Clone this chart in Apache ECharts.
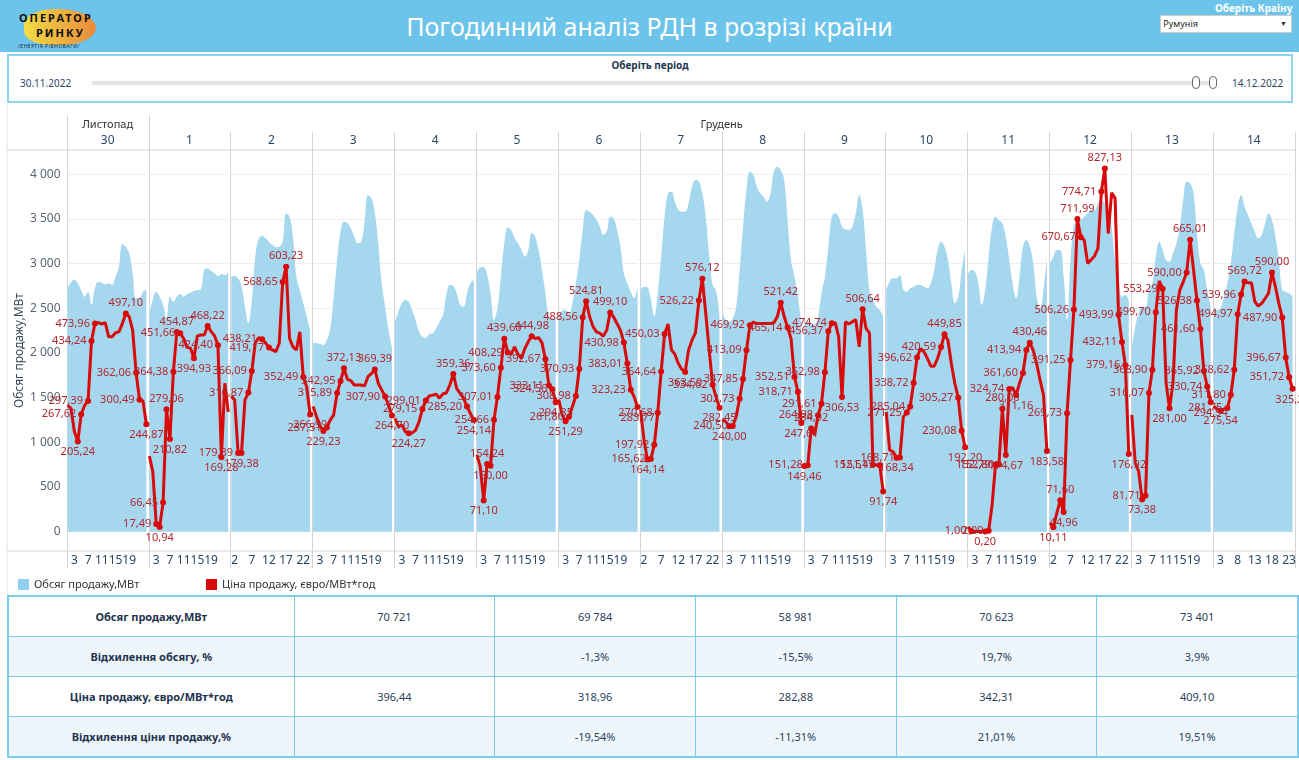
<!DOCTYPE html>
<html>
<head>
<meta charset="utf-8">
<script src="https://cdn.jsdelivr.net/npm/echarts@6/dist/echarts.min.js"></script>
<style>
body { margin: 0; width: 1299px; height: 760px; background: #fff; font-family: 'Noto Sans', sans-serif; position: relative; overflow: hidden; }
#top { position: absolute; left: 0; top: 0; width: 1299px; height: 52px; background: #6cc4ea; }
#title { position: absolute; left: 0; width: 1299px; top: 9px; text-align: center; color: #fff; font-size: 25px; }
#logo-blob { position: absolute; left: 24px; top: 9px; width: 72px; height: 36px; border-radius: 45% 55% 50% 40%; background: linear-gradient(90deg, #f3dc45, #e98a3c); }
.logo-t { position: absolute; font-weight: bold; color: #111; font-size: 11px; letter-spacing: 2px; }
#logo-s { position: absolute; left: 18px; top: 43px; font-size: 5px; color: #223; letter-spacing: 0.5px; }
#country-l { position: absolute; left: 1215px; top: 1px; color: #fff; font-size: 10px; font-weight: bold; }
#country { position: absolute; left: 1160px; top: 15px; width: 130px; height: 16px; background: #fff; border: 1px solid #ccc; font-size: 9px; line-height: 16px; color: #222; }
#country span { position: absolute; right: 4px; font-size: 7px; color: #333; }
#period { position: absolute; left: 7px; top: 54px; width: 1282px; height: 45px; border: 2px solid #8dd3ef; background: #fff; }
#period-l { position: absolute; left: 0; width: 1282px; top: 2px; text-align: center; font-size: 10px; font-weight: bold; color: #1f3550; }
.date { position: absolute; top: 20px; font-size: 10px; color: #2b4766; }
#track { position: absolute; left: 83px; top: 25px; width: 1125px; height: 4px; background: #e4e4e4; }
.knob { position: absolute; top: 20px; width: 6px; height: 11px; border: 1px solid #666; border-radius: 4px; background: #fff; }
#chart { position: absolute; left: 0; top: 105px; width: 1299px; height: 490px; }
#tbl { position: absolute; left: 7px; top: 595px; border-collapse: collapse; border: 2px solid #7ccbec; font-size: 11px; }
#tbl td { border: 1px solid #7ccbec; height: 39px; text-align: center; color: #2b3f5c; padding: 0; }
#tbl td.h { font-weight: bold; color: #1e3350; width: 285px; }
#tbl td.v { width: 200px; }
#tbl tr:nth-child(even) td { background: #eef6fb; }
</style>
</head>
<body>
<div id="top">
  <div id="logo-blob"></div>
  <div class="logo-t" style="left:19px;top:10px;">ОПЕРАТОР</div>
  <div class="logo-t" style="left:36px;top:25px;">РИНКУ</div>
  <div id="logo-s">/ЕНЕРГІЯ РІВНОВАГИ/</div>
  <div id="title">Погодинний аналіз РДН в розрізі країни</div>
  <div id="country-l">Оберіть Країну</div>
  <div id="country">&nbsp;Румунія<span>▼</span></div>
</div>
<div id="period">
  <div id="period-l">Оберіть період</div>
  <div class="date" style="left:11px;">30.11.2022</div>
  <div id="track"></div>
  <div class="knob" style="left:1183px;"></div>
  <div class="knob" style="left:1200px;"></div>
  <div class="date" style="left:1223px;">14.12.2022</div>
</div>
<div id="chart"></div>
<table id="tbl"></table>
<script>
// дні (панелі) та години
const months = ['Листопад', 'Грудень'];
const monthPanels = [1, 14];
const days = ['30', '1', '2', '3', '4', '5', '6', '7', '8', '9', '10', '11', '12', '13', '14'];
const hours = ['1','2','3','4','5','6','7','8','9','10','11','12','13','14','15','16','17','18','19','20','21','22','23','24'];
const tickHours = [
  [3,7,11,15,19], [3,7,11,15,19], [2,7,12,17,22], [3,7,11,15,19], [3,7,11,15,19],
  [3,7,11,15,19], [3,7,11,15,19], [2,7,12,17,22], [3,7,11,15,19], [3,7,11,15,19],
  [3,7,11,15,19], [3,7,11,15,19], [2,7,12,17,22], [3,7,11,15,19], [3,8,13,18,23]
];
const volTicks = [0, 500, 1000, 1500, 2000, 2500, 3000, 3500, 4000];

// обсяг продажу, МВт
const vol30 = [2724,2790,2824,2780,2700,2630,2686,2537,2724,2798,2787,2768,2780,2761,2854,2966,3220,3190,3115,2892,2612,2612,2686,2712];
const vol01 = [2444,2600,2686,2630,2537,2388,2630,2574,2630,2660,2630,2660,2675,2694,2705,2712,2929,2947,2921,2892,2862,2884,2873,2910];
const vol02 = [2854,2862,2836,2742,2518,2332,2593,3078,3272,3309,3283,3246,3209,3183,3190,3246,3563,3526,3302,2854,2705,2556,2406,2257];
const vol03 = [2115,2108,2100,2089,2145,2276,2630,3041,3358,3470,3459,3395,3302,3227,3246,3470,3768,3731,3563,3227,2780,2518,2257,2052];
const vol04 = [2350,2462,2556,2593,2574,2481,2369,2239,2183,2171,2212,2220,2276,2350,2425,2649,2761,2750,2668,2537,2518,2668,2780,2817];
const vol05 = [2892,2959,2959,2873,2668,2369,2500,2854,3227,3406,3377,3283,3227,3153,3078,3153,3339,3302,3153,2929,2668,2406,2388,2406];
const vol06 = [2425,2474,2481,2444,2556,2780,3041,3377,3600,3582,3545,3489,3414,3321,3358,3526,3507,3377,3190,2892,2780,2686,2612,2742];
const vol07 = [2705,2742,2735,2593,2406,2668,3078,3526,3787,3806,3694,3600,3582,3582,3675,3862,3936,3918,3787,3526,3100,2760,2700,2420];
const vol08 = [2444,2369,2350,2388,2518,2929,3414,3824,4030,3992,3862,3787,3750,3694,3787,4030,4085,4048,3936,3489,3041,2854,2630,2332];
const vol09 = [2313,2350,2339,2313,2406,2668,2854,3190,3526,3563,3526,3414,3384,3377,3414,3563,3768,3600,3153,2705,2593,2518,2481,2406];
const vol10 = [2705,2798,2836,2836,2873,2705,2686,2724,2742,2761,2761,2742,2724,2780,2929,3153,3246,3190,3041,2780,2556,2630,2929,3153];
const vol11 = [2892,2929,2910,2780,2537,2705,3078,3414,3526,3489,3451,3302,3041,2780,2612,2854,3190,3265,3190,3004,2630,2500,2705,3078];
const vol12 = [3004,3078,3153,3153,2854,2369,3041,3433,3470,3489,3526,3563,3600,3600,3675,3712,3675,3619,3414,3041,2817,2630,2649,2593];
const vol13 = [2071,2295,2444,2518,2518,2705,2780,3078,3246,3153,3041,3022,3115,3227,3414,3712,3918,3899,3787,3339,3004,2929,2705,2518];
const vol14 = [2518,2481,2500,2630,2780,3004,3339,3638,3768,3638,3545,3451,3358,3283,3321,3451,3563,3489,3302,3041,2705,2686,2668,2630];

// ціна продажу, євро/МВт*год
const price30 = [288,281,228,205.24,267.62,288,297.39,434.24,473.96,476,473,476,444,444,453,455,474,497.10,490,459,362.06,300.49,298,244.87];
const price01 = [172,137,17.49,10.94,66.45,279.06,210.82,364.38,454.87,451.66,440,420,418,394.93,446,448,448,468.22,456,446,424.40,169.28,338,273];
const price02 = [309,300,179.39,179.38,300,316.87,366.09,429,442,438.21,430,419.17,414,410,429,568.65,603.23,440,421,414,455,352.49,330,266.99];
const price03 = [285,262,241,229.23,237.31,254,266,315.89,342.95,372.13,347,344,334,334,334,332,353,360,369.39,338,323,307.90,288,264.70];
const price04 = [258,239,243,228,224.27,225,231,250,279.15,299.01,309,311,313,304,314,316,334,359.36,326,315,304,285.20,269,254.14];
const price05 = [175,148,71.10,154.24,150.00,254.66,307.01,373.60,439.60,408.29,404,421,404,395,417,433,444.98,440,442,430,392.67,333.11,324.56,294.85];
const price06 = [301,266,251.29,261.80,285,308.98,370.93,488.56,524.81,490,467,455,452,445,459,499.10,489,474,459,430.98,383.01,323.23,307,283.77];
const price07 = [277,209,164.14,165.62,197.92,270.68,364.64,450.03,473,414,404,383,370,363.59,414,436,453,526.22,576.12,497,414,334.62,307,282.45];
const price08 = [256,250,240.00,240.50,262,302.73,347.85,413.09,469.92,477,474,474,474,474,474,476,490,521.42,490,465.14,440,352.51,318.71,247.61];
const price09 = [149.46,151.28,234.92,220,264.98,291.61,362.98,456.37,474.74,476,444,306.53,478,473,478,483,421,506.64,463,452,152.51,152,151.45,91.74];
const price10 = [273,186,182,168.34,168.71,262,271.25,285.04,338.72,396.62,417,410,395,377,377,395,420.59,449.85,436,383,338,305.27,230.08,192.20];
const price11 = [11,1.00,0.5,0.3,0.5,0.20,2.00,60,152.79,152.80,280.00,174.67,324.74,328,311.16,338,361.60,413.94,430.46,413,383,345,311,183.58];
const price12 = [20,10.11,42,71.60,44.96,269.73,391.25,506.26,711.99,670.67,664,611,619,628,645,774.71,827.13,679,772,759,493.99,432.11,379.16,176.92];
const price13 = [266,156,137,73.38,81.71,316.07,368.90,499.70,571,553.29,338,281.00,338,505,550,569,590.00,665.01,596,526.38,461.60,365.92,330.74,294.94];
const price14 = [285,279,275.54,279,281.75,311.80,368.62,494.97,539.96,569.72,567,567,524,514,520,531,543,590.00,558,520,487.90,396.67,351.72,325.26];

// години з підписами ціни
const lab30 = [4,5,7,8,9,18,21,22,24];
const lab01 = [3,4,5,6,7,8,9,10,14,18,21,22];
const lab02 = [3,4,6,7,10,12,16,17,22,24];
const lab03 = [4,5,8,9,10,19,22,24];
const lab04 = [5,9,10,18,22,24];
const lab05 = [3,4,5,6,7,8,9,10,17,21,22,23,24];
const lab06 = [3,4,6,7,8,9,16,20,21,22,24];
const lab07 = [3,4,5,6,7,8,14,18,19,22,24];
const lab08 = [3,4,6,7,8,9,18,20,22,23,24];
const lab09 = [1,2,3,5,6,7,8,9,12,18,21,23,24];
const lab10 = [4,5,7,8,9,10,17,18,22,23,24];
const lab11 = [2,6,7,9,10,11,12,13,15,17,18,19,24];
const lab12 = [2,4,5,6,7,8,9,10,16,17,21,22,23,24];
const lab13 = [4,5,6,7,8,10,12,17,18,20,21,22,23,24];
const lab14 = [3,5,6,7,8,9,10,18,21,22,23,24];

// підсумкова таблиця
const tblRows = ['Обсяг продажу,МВт', 'Відхилення обсягу, %', 'Ціна продажу, євро/МВт*год', 'Відхилення ціни продажу,%'];
const tblVolume = ['70 721', '69 784', '58 981', '70 623', '73 401'];
const tblVolumeDev = ['', '-1,3%', '-15,5%', '19,7%', '3,9%'];
const tblPrice = ['396,44', '318,96', '282,88', '342,31', '409,10'];
const tblPriceDev = ['', '-19,54%', '-11,31%', '21,01%', '19,51%'];

const volumes = [vol30, vol01, vol02, vol03, vol04, vol05, vol06, vol07, vol08, vol09, vol10, vol11, vol12, vol13, vol14];
const prices = [price30, price01, price02, price03, price04, price05, price06, price07, price08, price09, price10, price11, price12, price13, price14];
const labels = [lab30, lab01, lab02, lab03, lab04, lab05, lab06, lab07, lab08, lab09, lab10, lab11, lab12, lab13, lab14];

const volName = 'Обсяг продажу,МВт';
const priceName = 'Ціна продажу, євро/МВт*год';
const font = 'Noto Sans';
const VOL_MIN = -216, VOL_MAX = 4272, K = 4.915;
const X0 = 66.7, PW = 81.87, GT = 45, GH = 401;

let grids = [], xAxes = [], yAxes = [], series = [], graphic = [];
for (let i = 0; i < days.length; i++) {
  grids.push({left: X0 + i * PW + 0.8, top: GT, width: PW - 3, height: GH});
  xAxes.push({
    type: 'category', gridIndex: i, data: hours, boundaryGap: false,
    axisLine: {show: false, onZero: false}, axisTick: {show: false}, splitLine: {show: false},
    axisLabel: {interval: (idx, val) => tickHours[i].indexOf(+val) >= 0, margin: 4, fontSize: 12, color: '#2b4766', fontFamily: font}
  });
  yAxes.push({
    type: 'value', gridIndex: i, min: VOL_MIN, max: VOL_MAX,
    axisLine: {show: false}, axisTick: {show: false, customValues: volTicks},
    axisLabel: {show: i === 0, customValues: volTicks, fontSize: 12, color: '#5a6573', fontFamily: font, margin: 7,
      formatter: v => String(v).replace(/\B(?=(\d{3})+(?!\d))/g, ' ')},
    splitLine: {show: true, lineStyle: {color: '#eeeeee'}},
    name: i === 0 ? volName : '', nameLocation: 'middle', nameGap: 40,
    nameTextStyle: {fontSize: 12, color: '#3b4a5a', fontFamily: font}
  });
  yAxes.push({type: 'value', gridIndex: i, min: VOL_MIN / K, max: VOL_MAX / K, show: false});

  series.push({
    type: 'line', name: volName, xAxisIndex: i, yAxisIndex: 2 * i, data: volumes[i],
    smooth: 0.4, symbol: 'none', silent: true, z: 1,
    lineStyle: {width: 0}, itemStyle: {color: '#8fd0ee'}, areaStyle: {color: '#a5d8ef', opacity: 1}
  });
  const p = prices[i];
  series.push({
    type: 'line', name: priceName, xAxisIndex: i, yAxisIndex: 2 * i + 1, z: 3,
    symbol: 'circle', showAllSymbol: true,
    lineStyle: {color: '#d90a0a', width: 3}, itemStyle: {color: '#d90a0a'},
    label: {fontSize: 11, color: '#b3262e', fontFamily: font, distance: 2,
      formatter: d => d.value.toFixed(2).replace('.', ',')},
    data: p.map((v, k) => {
      const shown = labels[i].indexOf(k + 1) >= 0;
      const prev = k > 0 ? p[k - 1] : v, next = k < p.length - 1 ? p[k + 1] : v;
      let pos = 'left';
      if (v >= prev && v >= next) pos = 'top';
      else if (v <= prev && v <= next) pos = 'bottom';
      return {value: v, symbolSize: shown ? 6 : 0, label: {show: shown, position: pos}};
    })
  });
}

// розділювачі панелей і заголовки
const line = (x1, y1, x2, y2, c) => ({type: 'line', shape: {x1, y1, x2, y2}, style: {stroke: c || '#d4d4d4', lineWidth: 1}, silent: true});
graphic.push(line(7, GT, 1296, GT));
graphic.push(line(7, GT + GH, 1296, GT + GH));
graphic.push(line(7, 0, 7, 490, '#e6e6e6'));
for (let i = 0; i <= days.length; i++) {
  const x = Math.round(X0 + i * PW) + 0.5;
  graphic.push(line(x, i <= monthPanels[0] ? 10 : 27, x, 463));
}
let start = 0;
months.forEach((m, j) => {
  const cx = X0 + (start + monthPanels[j] / 2) * PW;
  graphic.push({type: 'text', x: cx, y: 20, style: {text: m, fill: '#333', font: '11px ' + font, align: 'center', verticalAlign: 'middle'}});
  start += monthPanels[j];
});
days.forEach((d, i) => {
  graphic.push({type: 'text', x: X0 + (i + 0.5) * PW, y: 36, style: {text: d, fill: '#2b4766', font: '12px ' + font, align: 'center', verticalAlign: 'middle'}});
});

const chart = echarts.init(document.getElementById('chart'));
chart.setOption({
  animation: false,
  grid: grids, xAxis: xAxes, yAxis: yAxes, series: series, graphic: graphic,
  legend: [
    {data: [volName], left: 13, top: 469, icon: 'rect', itemWidth: 11, itemHeight: 11, itemGap: 5, selectedMode: false, textStyle: {fontSize: 11, color: '#333', fontFamily: font}},
    {data: [priceName], left: 201, top: 469, icon: 'rect', itemWidth: 11, itemHeight: 11, itemGap: 5, selectedMode: false, textStyle: {fontSize: 11, color: '#333', fontFamily: font}}
  ]
});

// таблиця
const tblData = [tblVolume, tblVolumeDev, tblPrice, tblPriceDev];
let html = '';
tblRows.forEach((r, j) => {
  html += '<tr><td class="h">' + r + '</td>' + tblData[j].map(v => '<td class="v">' + v + '</td>').join('') + '</tr>';
});
document.getElementById('tbl').innerHTML = html;
</script>
</body>
</html>
